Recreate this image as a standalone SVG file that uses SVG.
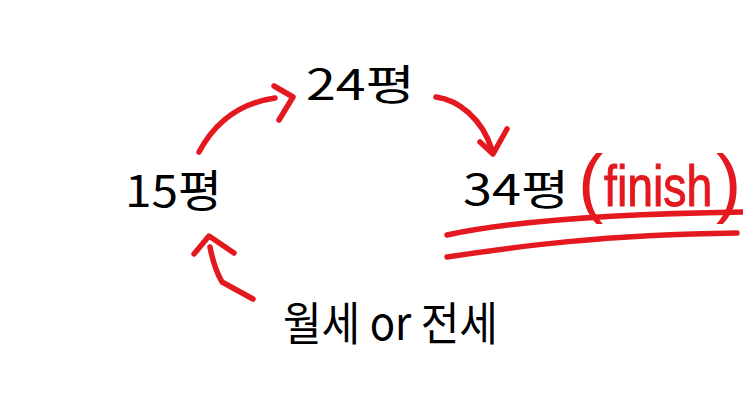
<svg xmlns="http://www.w3.org/2000/svg" width="743" height="418" viewBox="0 0 743 418">
<style>
.bg{fill:#ffffff}
.lbl{font-family:"Noto Sans CJK KR","Noto Sans",sans-serif;fill:#000000}
.fin{font-family:"Liberation Sans",Arial,sans-serif;fill:#e3191f}
.red{fill:none;stroke:#e3191f;stroke-width:5.5;stroke-linecap:round;stroke-linejoin:round}
</style>
<rect class="bg" x="0" y="0" width="743" height="418"/>
<g id="connectors">
<path class="red" d="M199,152 C215,122 240,103 275,98"/>
<path class="red" d="M274,86 L293,97 L279,120"/>
<path class="red" d="M436,97 C458,100 482,118 492,150"/>
<path class="red" d="M480,142 L493,154 L507,129"/>
<path class="red" d="M253,299 L222,282 Q214,268 210,247"/>
<path class="red" d="M194,254 L209,236 L234,253"/>
</g>
<g id="node-15">
<text class="lbl" x="125" y="207" font-size="44" textLength="97" lengthAdjust="spacingAndGlyphs">15평</text>
</g>
<g id="node-24">
<text class="lbl" x="306" y="100" font-size="42" textLength="109" lengthAdjust="spacingAndGlyphs">24평</text>
</g>
<g id="node-34">
<text class="lbl" x="463" y="205" font-size="42" textLength="106" lengthAdjust="spacingAndGlyphs">34평</text>
<text class="fin" x="578" y="208" font-size="76">(</text>
<text class="fin" transform="translate(604,206) scale(0.8,1)" x="0" y="0" font-size="58" style="stroke:#e3191f;stroke-width:1">finish</text>
<text class="fin" x="716" y="208" font-size="76">)</text>
<path class="red" d="M447,235 Q540,215 743,212"/>
<path class="red" d="M447,257 C520,246 600,235 737,233"/>
</g>
<g id="node-rent">
<text class="lbl" x="283" y="340" font-size="46" textLength="215" lengthAdjust="spacingAndGlyphs">월세 or 전세</text>
</g>
</svg>
